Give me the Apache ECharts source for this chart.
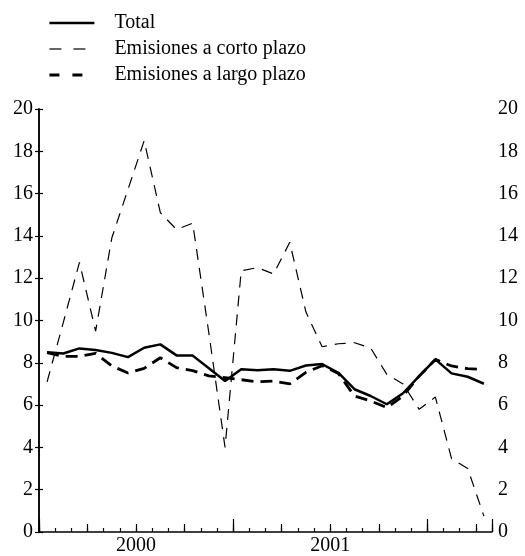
<!DOCTYPE html>
<html><head><meta charset="utf-8">
<script src="https://cdn.jsdelivr.net/npm/echarts@6/dist/echarts.min.js"></script>
<style>html,body{margin:0;padding:0;background:#fff}#c{width:525px;height:556px}</style>
</head><body><div id="c"></div>
<script>
// Monthly data, Jan 2000 - Apr 2002
const months = ['2000-01','2000-02','2000-03','2000-04','2000-05','2000-06','2000-07','2000-08','2000-09','2000-10','2000-11','2000-12',
                '2001-01','2001-02','2001-03','2001-04','2001-05','2001-06','2001-07','2001-08','2001-09','2001-10','2001-11','2001-12',
                '2002-01','2002-02','2002-03','2002-04'];
const yearLabels = ['2000', '2001'];
const seriesNames = ['Total', 'Emisiones a corto plazo', 'Emisiones a largo plazo'];
const total = [8.50, 8.44, 8.68, 8.61, 8.47, 8.27, 8.71, 8.87, 8.35, 8.34, 7.74, 7.14,
               7.69, 7.65, 7.70, 7.62, 7.87, 7.94, 7.53, 6.75, 6.43, 6.04, 6.56, 7.37,
               8.16, 7.50, 7.34, 7.01];
const corto = [7.10, 9.90, 12.75, 9.50, 13.90, 16.20, 18.50, 15.10, 14.30, 14.60, 9.40, 4.00,
               12.35, 12.50, 12.20, 13.70, 10.40, 8.76, 8.90, 8.95, 8.70, 7.45, 7.00, 5.80,
               6.38, 3.47, 3.00, 0.75];
const largo = [8.48, 8.30, 8.30, 8.45, 7.85, 7.52, 7.74, 8.24, 7.77, 7.63, 7.38, 7.30,
               7.20, 7.10, 7.14, 7.00, 7.55, 7.86, 7.50, 6.43, 6.20, 5.88, 6.43, 7.37,
               8.16, 7.85, 7.72, 7.68];

const FONT = 'Liberation Serif';
const chart = echarts.init(document.getElementById('c'), null, {renderer: 'canvas'});
const n = months.length;

function tickAxis(interval, len) {
  return {
    type: 'value', min: 0, max: n, interval: interval, position: 'bottom',
    axisLine: {show: false}, axisLabel: {show: false}, splitLine: {show: false},
    axisTick: {show: true, inside: true, length: len, lineStyle: {color: '#000', width: 1.2}}
  };
}
function yAxis(pos) {
  return {
    type: 'value', min: 0, max: 20, interval: 2, position: pos,
    axisLine: {show: true, lineStyle: {color: '#000', width: 1.5}},
    axisTick: {show: true, inside: true, length: 4, lineStyle: {color: '#000', width: 1.2}},
    axisLabel: {show: true, margin: 6, fontFamily: FONT, fontSize: 20, color: '#000'},
    splitLine: {show: false}
  };
}
const hideSymbol = {opacity: 0};

const option = {
  animation: false,
  backgroundColor: '#fff',
  textStyle: {fontFamily: FONT},
  legend: {
    orient: 'vertical', left: 48, top: 10, padding: 0, itemWidth: 45, itemHeight: 14, itemGap: 0,
    itemStyle: hideSymbol,
    lineStyle: {width: 'inherit'},
    data: [
      {name: seriesNames[0], itemStyle: hideSymbol},
      {name: seriesNames[1], itemStyle: hideSymbol, lineStyle: {type: [12, 12], width: 1.2}},
      {name: seriesNames[2], itemStyle: hideSymbol, lineStyle: {type: [10, 13], width: 2.8}}
    ],
    textStyle: {fontFamily: FONT, fontSize: 20, color: '#000', lineHeight: 26, padding: [0, 0, 0, 15]}
  },
  grid: {left: 39, right: 33, top: 109, bottom: 23},
  xAxis: [
    {
      type: 'category', data: months, boundaryGap: true, position: 'bottom',
      axisLine: {show: true, lineStyle: {color: '#000', width: 1.5}},
      axisTick: {show: true, inside: true, length: 4, interval: 0, lineStyle: {color: '#000', width: 1.2}},
      axisLabel: {show: false}, splitLine: {show: false}
    },
    tickAxis(3, 8),
    tickAxis(12, 13),
    {
      type: 'value', min: 0, max: n, interval: 6, position: 'bottom',
      axisLine: {show: false}, axisTick: {show: false}, splitLine: {show: false},
      axisLabel: {
        show: true, margin: 4, fontFamily: FONT, fontSize: 20, color: '#000',
        formatter: function (v) { return (v % 12 === 6) ? (yearLabels[(v - 6) / 12] || '') : ''; }
      }
    }
  ],
  yAxis: [yAxis('left'), yAxis('right')],
  series: [
    {name: seriesNames[0], type: 'line', data: total, symbol: 'none', z: 4,
     lineStyle: {color: '#000', width: 2.5, type: 'solid'}, itemStyle: {color: '#000'}},
    {name: seriesNames[1], type: 'line', data: corto, symbol: 'none', z: 3,
     lineStyle: {color: '#000', width: 1.2, type: [11, 8]}, itemStyle: {color: '#000'}},
    {name: seriesNames[2], type: 'line', data: largo, symbol: 'none', z: 3,
     lineStyle: {color: '#000', width: 2.8, type: [12, 7]}, itemStyle: {color: '#000'}}
  ]
};
chart.setOption(option);
</script>
</body></html>
